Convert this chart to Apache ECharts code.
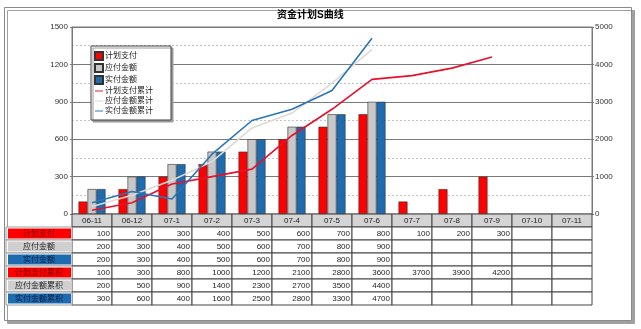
<!DOCTYPE html>
<html>
<head>
<meta charset="utf-8">
<script src="https://cdn.jsdelivr.net/npm/echarts@6/dist/echarts.min.js"></script>
<style>
  html, body { margin: 0; padding: 0; background: #fff; }
  #chart { width: 641px; height: 329px; }
</style>
</head>
<body>
<div id="chart"></div>
<script>
// Months on the category axis
const months = ['06-11', '06-12', '07-1', '07-2', '07-3', '07-4', '07-5', '07-6', '07-7', '07-8', '07-9', '07-10', '07-11'];

// Monthly amounts (left axis)
const planPay   = [100, 200, 300, 400, 500, 600, 700, 800, 100, 200, 300, null, null];
const payable   = [200, 300, 400, 500, 600, 700, 800, 900, null, null, null, null, null];
const actualPay = [200, 300, 400, 500, 600, 700, 800, 900, null, null, null, null, null];

// Running totals (right axis)
const planCum    = [100, 300, 800, 1000, 1200, 2100, 2800, 3600, 3700, 3900, 4200, null, null];
const payableCum = [200, 500, 900, 1400, 2300, 2700, 3500, 4400, null, null, null, null, null];
const actualCum  = [300, 600, 400, 1600, 2500, 2800, 3300, 4700, null, null, null, null, null];

// Axis ticks
const leftTicks = { min: 0, max: 1500, interval: 300 };
const rightTicks = { min: 0, max: 5000, interval: 1000 };

// Series names (legend) and data-table row captions
const seriesNames = ['计划支付', '应付金额', '实付金额', '计划支付累计', '应付金额累计', '实付金额累计'];
const rowCaptions = ['计划支付', '应付金额', '实付金额', '计划支付累积', '应付金额累积', '实付金额累积'];
const tableRows = [planPay, payable, actualPay, planCum, payableCum, actualCum];

const FONT = '"Liberation Sans", "Noto Sans CJK SC", sans-serif';
const RED = '#ff0000', GREY = '#c8c8c8', BLUE = '#1e6bb0';
const rowFill = [RED, '#cfcfcf', BLUE, RED, '#cfcfcf', BLUE];
const rowText = ['#7a0000', '#222222', '#0a1f3f', '#7a0000', '#222222', '#0a1f3f'];

// Cells of the data table: header row (row 0), value rows (1..6), caption column
const cells = [];
months.forEach((m, c) => cells.push({ value: [c, 0], text: m, kind: 'head' }));
tableRows.forEach((arr, r) => {
  arr.forEach((v, c) => cells.push({ value: [c, r + 1], text: v == null ? '' : String(v), kind: 'val' }));
  cells.push({ value: [0, r + 1], text: rowCaptions[r], kind: 'cap', row: r });
});

const CAP_W = 66;

function renderCell(params, api) {
  const cell = cells[params.dataIndex];
  const p = api.coord([api.value(0), api.value(1)]);
  const sz = api.size([1, 1]);
  const w = sz[0], h = sz[1];
  let x = p[0] - w / 2, y = p[1] - h / 2;
  if (cell.kind === 'cap') {
    const cx = x - CAP_W;
    return {
      type: 'group',
      children: [
        { type: 'rect', shape: { x: cx, y: y, width: CAP_W, height: h },
          style: { fill: '#fff', stroke: '#9a9a9a', lineWidth: 1 } },
        { type: 'rect', shape: { x: cx + 2, y: y + 1.5, width: CAP_W - 3, height: h - 3 },
          style: { fill: rowFill[cell.row] } },
        { type: 'text', style: { x: cx + CAP_W / 2, y: p[1], text: cell.text, align: 'center',
          verticalAlign: 'middle', fill: rowText[cell.row], font: '8px ' + FONT } }
      ]
    };
  }
  const head = cell.kind === 'head';
  return {
    type: 'group',
    children: [
      { type: 'rect', shape: { x: x, y: y, width: w, height: h },
        style: { fill: head ? '#d4d4d4' : '#fff', stroke: '#444', lineWidth: 1 } },
      { type: 'text', style: {
          x: head ? p[0] : x + w - 2, y: p[1], text: cell.text,
          align: head ? 'center' : 'right', verticalAlign: 'middle',
          fill: '#222', font: '8px ' + FONT } }
    ]
  };
}

const chart = echarts.init(document.getElementById('chart'), null, { renderer: 'canvas' });

const barStyle = (color) => ({ color: color, borderColor: '#333', borderWidth: 0.6 });
const lineSeries = (name, data, color) => ({
  name: name, type: 'line', xAxisIndex: 0, yAxisIndex: 1, data: data,
  symbol: 'none', connectNulls: false, z: 5,
  lineStyle: { color: color, width: 1.6 }, itemStyle: { color: color }
});
const lineIcon = 'path://M0,4.4h10v1.2h-10z';
const plainNumber = (v) => String(v);

chart.setOption({
  animation: false,
  textStyle: { fontFamily: FONT },
  title: {
    text: '资金计划S曲线', left: 277, top: 10, padding: 0,
    textStyle: { fontSize: 10, fontWeight: 'bold', color: '#000', fontFamily: FONT }
  },
  graphic: [{
    type: 'rect', z: -10, silent: true,
    shape: { x: 4.5, y: 7.5, width: 627, height: 313 },
    style: { fill: '#fff', stroke: '#8a8a8a', lineWidth: 1,
      shadowColor: '#a0a0a0', shadowOffsetX: 3, shadowOffsetY: 3, shadowBlur: 0 }
  }],
  legend: {
    orient: 'vertical', left: 91, top: 46,
    padding: [5, 18, 5, 3],
    itemWidth: 8, itemHeight: 8, itemGap: 2,
    backgroundColor: '#fff', borderColor: '#444', borderWidth: 1,
    shadowColor: '#9a9a9a', shadowOffsetX: 2, shadowOffsetY: 2, shadowBlur: 0,
    textStyle: { fontSize: 8, color: '#222', fontFamily: FONT, padding: [0, 0, 0, -3] },
    data: [
      { name: seriesNames[0], icon: 'rect' },
      { name: seriesNames[1], icon: 'rect' },
      { name: seriesNames[2], icon: 'rect' },
      { name: seriesNames[3], icon: lineIcon },
      { name: seriesNames[4], icon: lineIcon },
      { name: seriesNames[5], icon: lineIcon }
    ]
  },
  grid: [
    { left: 72, right: 49, top: 27, height: 187, show: true, borderColor: '#7a7a7a', borderWidth: 1 },
    { left: 72, right: 49, top: 214, height: 91 }
  ],
  xAxis: [
    { type: 'category', gridIndex: 0, data: months,
      axisLine: { show: false }, axisTick: { show: false }, axisLabel: { show: false } },
    { type: 'category', gridIndex: 1, data: months, show: false }
  ],
  yAxis: [
    { type: 'value', gridIndex: 0, position: 'left',
      min: leftTicks.min, max: leftTicks.max, interval: leftTicks.interval,
      axisLine: { show: true, lineStyle: { color: '#7a7a7a' } },
      axisTick: { show: true, length: 2, lineStyle: { color: '#7a7a7a' } },
      axisLabel: { fontSize: 8, color: '#333', margin: 4, fontFamily: FONT, formatter: plainNumber },
      splitLine: { show: true, lineStyle: { color: '#7a7a7a', width: 1 } },
      minorTick: { show: false, splitNumber: 2 },
      minorSplitLine: { show: true, lineStyle: { color: '#c4c4c4', type: [2, 2], width: 1 } }
    },
    { type: 'value', gridIndex: 0, position: 'right',
      min: rightTicks.min, max: rightTicks.max, interval: rightTicks.interval,
      axisLine: { show: true, lineStyle: { color: '#7a7a7a' } },
      axisTick: { show: true, length: 2, lineStyle: { color: '#7a7a7a' } },
      axisLabel: { fontSize: 8, color: '#333', margin: 3, fontFamily: FONT, formatter: plainNumber },
      splitLine: { show: false }
    },
    { type: 'category', gridIndex: 1, inverse: true, show: false,
      data: ['', ...rowCaptions] }
  ],
  series: [
    { name: seriesNames[0], type: 'bar', data: planPay, barWidth: 9, barGap: '0%', itemStyle: barStyle(RED) },
    { name: seriesNames[1], type: 'bar', data: payable, barWidth: 9, barGap: '0%', itemStyle: barStyle(GREY) },
    { name: seriesNames[2], type: 'bar', data: actualPay, barWidth: 9, barGap: '0%', itemStyle: barStyle(BLUE) },
    lineSeries(seriesNames[3], planCum, '#e8102a'),
    lineSeries(seriesNames[4], payableCum, '#dedad6'),
    lineSeries(seriesNames[5], actualCum, '#2a74b8'),
    { type: 'custom', xAxisIndex: 1, yAxisIndex: 2, clip: false, silent: true,
      renderItem: renderCell, data: cells.map(c => c.value) }
  ]
});
</script>
</body>
</html>
